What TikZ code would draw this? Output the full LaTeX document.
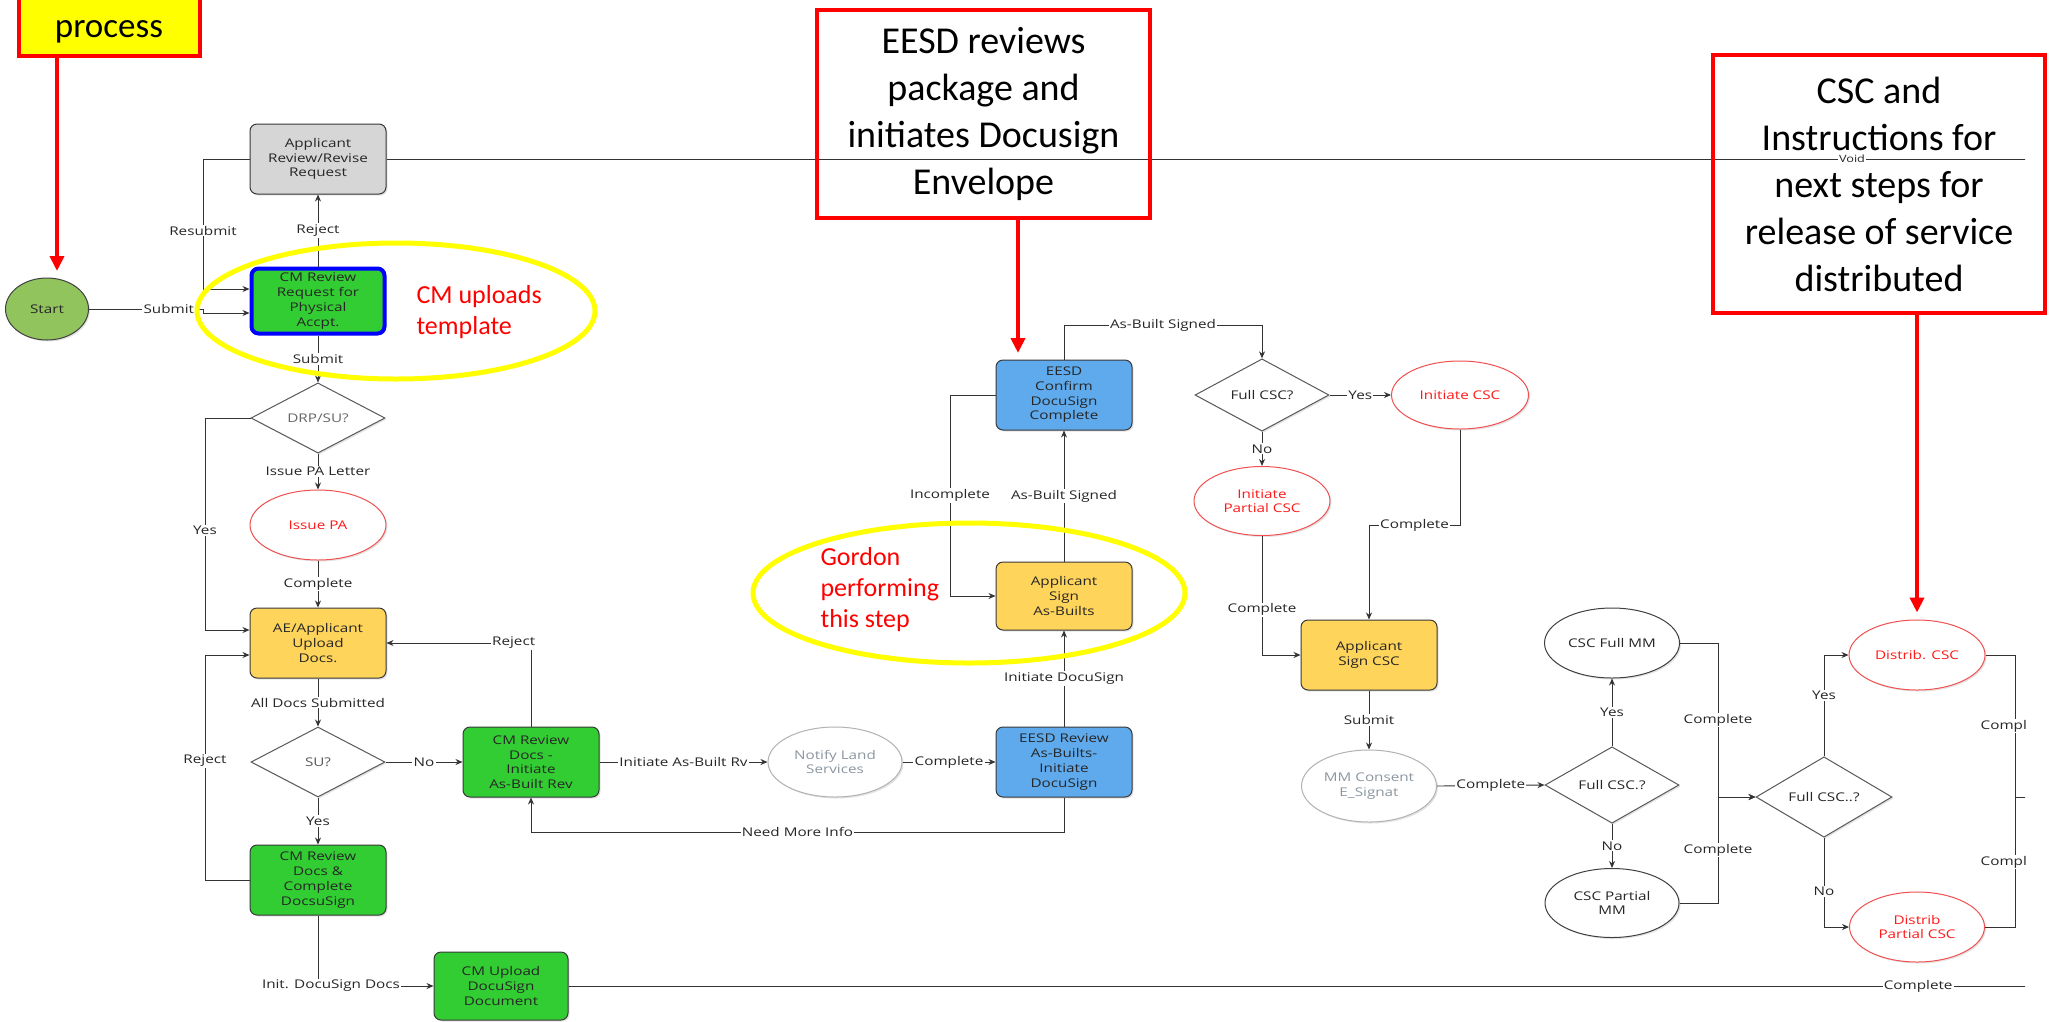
\documentclass[tikz,border=0pt]{standalone}
\usepackage{fontspec}
\setmainfont{Carlito}
\newfontfamily\flowfont{Open Sans}[FakeStretch=1.27]
\usetikzlibrary{shapes.geometric,calc,arrows.meta,shadows}

\definecolor{startgreen}{RGB}{146,196,94}
\definecolor{procgreen}{RGB}{50,205,50}
\definecolor{procgray}{RGB}{214,214,214}
\definecolor{procgold}{RGB}{255,212,90}
\definecolor{procblue}{RGB}{94,170,236}
\definecolor{ovalred}{RGB}{240,80,80}
\definecolor{textred}{RGB}{255,25,25}
\definecolor{notered}{RGB}{255,0,0}
\definecolor{ringyellow}{RGB}{255,255,0}
\definecolor{fadegray}{RGB}{140,150,160}

\begin{document}
\begin{tikzpicture}[x=1pt,y=-1pt,
  flowtext/.style={font=\flowfont\fontsize{12}{14.7}\selectfont, align=center, text=black!85},
  softshadow/.style={drop shadow={shadow xshift=1.5pt,shadow yshift=-1.5pt,opacity=0.22}},
  procbox/.style={flowtext, softshadow, draw=black!78, line width=1pt, rounded corners=7pt,
    minimum width=136pt, minimum height=70pt, inner sep=1pt},
  greenbox/.style={procbox, fill=procgreen},
  graybox/.style={procbox, fill=procgray},
  goldbox/.style={procbox, fill=procgold},
  bluebox/.style={procbox, fill=procblue},
  decision/.style={flowtext, softshadow, shape=diamond, draw=black!65, line width=1pt, fill=white,
    minimum width=134pt, minimum height=67pt, inner sep=0pt},
  oval/.style={flowtext, softshadow, shape=ellipse, line width=1pt, fill=white,
    minimum width=136pt, minimum height=70pt, inner sep=0pt},
  redoval/.style={oval, draw=ovalred, text=textred},
  paleoval/.style={oval, draw=black!30, text=fadegray},
  darkoval/.style={oval, draw=black!75},
  conn/.style={draw=black!80, line width=0.9pt},
  arr/.style={conn, -{Stealth[length=7pt,width=6pt]}},
  lbl/.style={font=\flowfont\fontsize{12}{14}\selectfont, fill=white, inner sep=1.2pt, text=black!85},
  notebox/.style={draw=notered, line width=4pt},
  notetext/.style={font=\fontsize{38}{47}\selectfont, align=center},
  pointer/.style={draw=notered, line width=4pt, -{Triangle[length=15pt,width=14pt]}},
  ring/.style={shape=ellipse, draw=ringyellow, line width=5pt, inner sep=0pt},
  handnote/.style={font=\fontsize{26}{31}\selectfont, text=notered, align=left, anchor=west}
]
\useasboundingbox (0,0) rectangle (2049,1021);
\clip (0,0) rectangle (2049,1021);
\fill[white] (0,0) rectangle (2049,1021);

\begin{scope}
\clip (0,0) rectangle (2025,1021);

% ---- process steps ----
\node[oval, draw=black!75, fill=startgreen, minimum width=83pt, minimum height=62pt] (start) at (47,309) {Start};
\node[graybox] (appreview) at (318,159) {Applicant\\Review/Revise\\Request};
\node[greenbox, draw=blue, line width=4pt, minimum width=133pt, minimum height=65pt] (cmreq) at (318,301) {CM Review\\Request for\\Physical\\Accpt.};
\node[decision, text=black!60] (drp) at (318,418) {DRP/SU?};
\node[redoval] (issuepa) at (318,525) {Issue PA};
\node[goldbox] (aeupload) at (318,643) {AE/Applicant\\Upload\\Docs.};
\node[decision, minimum height=70pt, text=black!65] (su) at (318,762) {SU?};
\node[greenbox] (cmdocs) at (531,762) {CM Review\\Docs -\\Initiate\\As-Built Rev};
\node[greenbox] (cmcomplete) at (318,880) {CM Review\\Docs \&\\Complete\\DocsuSign};
\node[greenbox, minimum width=134pt, minimum height=68pt] (cmupload) at (501,986) {CM Upload\\DocuSign\\Document};
\node[paleoval, minimum width=134pt] (notify) at (835,762) {Notify Land\\Services};
\node[bluebox] (eesdrev) at (1064,762) {EESD Review\\As-Builts-\\Initiate\\DocuSign};
\node[goldbox, minimum height=68pt] (appsign) at (1064,596) {Applicant\\Sign\\As-Builts};
\node[bluebox] (eesdconf) at (1064,395) {EESD\\Confirm\\DocuSign\\Complete};
\node[decision] (fullcsc) at (1262,395) {Full CSC?};
\node[redoval, minimum width=137pt, minimum height=68pt] (initcsc) at (1460,395) {Initiate CSC};
\node[redoval, minimum height=69pt] (initpart) at (1262,501) {Initiate\\Partial CSC};
\node[goldbox] (appsigncsc) at (1369,655) {Applicant\\Sign CSC};
\node[paleoval, minimum width=135pt, minimum height=72pt] (mmconsent) at (1369,786) {MM Consent\\E\_Signat};
\node[decision] (fullcscb) at (1612,785) {Full CSC.?};
\node[darkoval, minimum width=135pt] (cscfull) at (1612,643) {CSC Full MM};
\node[darkoval, minimum width=134pt, minimum height=69pt] (cscpart) at (1612,903) {CSC Partial\\MM};
\node[decision, minimum width=136pt] (fullcscc) at (1824,797) {Full CSC..?};
\node[redoval] (distcsc) at (1917,655) {Distrib. CSC};
\node[redoval, minimum width=135pt] (distpart) at (1917,927) {Distrib\\Partial CSC};

% ---- connectors ----
\draw[arr] (start.east) -- node[lbl,pos=0.7]{Submit} ++(114,0) |- ($(cmreq.west)+(0,12)$);
\draw[arr] (appreview.west) -- (203,159) -- node[lbl,pos=0.55]{Resubmit} (203,289) -- ($(cmreq.west)+(0,-12)$);
\draw[arr] (cmreq.north) -- node[lbl]{Reject} (appreview.south);
\draw[arr] (cmreq.south) -- node[lbl]{Submit} (drp.north);
\draw[arr] (drp.west) -- (205,418) -- node[lbl,pos=0.53]{Yes} (205,630) -- ($(aeupload.west)+(0,-13)$);
\draw[arr] (drp.south) -- node[lbl]{Issue PA Letter} (issuepa.north);
\draw[arr] (issuepa.south) -- node[lbl]{Complete} (aeupload.north);
\draw[arr] (aeupload.south) -- node[lbl]{All Docs Submitted} (su.north);
\draw[arr] (su.east) -- node[lbl]{No} (cmdocs.west);
\draw[arr] (cmdocs.north) |- node[lbl,pos=0.56]{Reject} (aeupload.east);
\draw[arr] (su.south) -- node[lbl]{Yes} (cmcomplete.north);
\draw[arr] (cmcomplete.west) -- (205,880) -- node[lbl,pos=0.53]{Reject} (205,655) -- ($(aeupload.west)+(0,12)$);
\draw[arr] (cmcomplete.south) |- node[lbl,pos=0.556]{Init. DocuSign Docs} (cmupload.west);
\draw[conn] (cmupload.east) -- node[lbl,pos=0.9116]{Complete} (2049,986);
\draw[arr] (cmdocs.east) -- node[lbl]{Initiate As-Built Rv} (notify.west);
\draw[arr] (notify.east) -- node[lbl]{Complete} (eesdrev.west);
\draw[arr] (eesdrev.south) -- (eesdrev.south |- 0,832) -- node[lbl]{Need More Info} (cmdocs.south |- 0,832) -- (cmdocs.south);
\draw[arr] (eesdrev.north) -- node[lbl]{Initiate DocuSign} (appsign.south);
\draw[arr] (appsign.north) -- node[lbl]{As-Built Signed} (eesdconf.south);
\draw[arr] (eesdconf.west) -- (950,395) -- node[lbl]{Incomplete} (950,596) -- (appsign.west);
\draw[arr] (eesdconf.north) -- (1064,325) -- node[lbl]{As-Built Signed} (1262,325) -- (fullcsc.north);
\draw[arr] (fullcsc.east) -- node[lbl]{Yes} (initcsc.west);
\draw[arr] (fullcsc.south) -- node[lbl]{No} (initpart.north);
\draw[arr] (initcsc.south) -- (1460,525) -- node[lbl]{Complete} (1369,525) -- (appsigncsc.north);
\draw[arr] (initpart.south) |- node[lbl,pos=0.31]{Complete} (appsigncsc.west);
\draw[arr] (appsigncsc.south) -- node[lbl]{Submit} (mmconsent.north);
\draw[arr] (mmconsent.east) -- node[lbl]{Complete} (fullcscb.west);
\draw[arr] (fullcscb.north) -- node[lbl]{Yes} (cscfull.south);
\draw[arr] (fullcscb.south) -- node[lbl]{No} (cscpart.north);
\draw[arr] (cscfull.east) -- (1718,643) -- node[lbl]{Complete} (1718,797) -- (fullcscc.west);
\draw[arr] (cscpart.east) -- (1718,903) -- node[lbl]{Complete} (1718,797) -- (fullcscc.west);
\draw[arr] (fullcscc.north) |- node[lbl,pos=0.3]{Yes} (distcsc.west);
\draw[arr] (fullcscc.south) |- node[lbl,pos=0.3]{No} (distpart.west);
\draw[conn] (distcsc.east) -- (2015,655) -- node[lbl]{Complete} (2015,797) -- (2049,797);
\draw[conn] (distpart.east) -- (2015,927) -- node[lbl]{Complete} (2015,797);
\draw[conn] (appreview.east) -- node[lbl,pos=0.8815,font=\flowfont\fontsize{10}{12}\selectfont]{Void} (2049,159);
\end{scope}

% ---- call-out notes ----
\node[notebox, fill=ringyellow, minimum width=181pt, minimum height=100pt] (procnote) at (109.5,6) {};
\node[font=\fontsize{35}{42}\selectfont, anchor=base] (proctext) at (109,37) {process};
\node[notebox, notetext, minimum width=333pt, minimum height=208pt] (eesdnote) at (983.5,114)
  {EESD reviews\\package and\\initiates Docusign\\Envelope};
\node[notebox, notetext, minimum width=332pt, minimum height=258pt] (cscnote) at (1879,184)
  {CSC and\\Instructions for\\next steps for\\release of service\\distributed};

\coordinate (proctip) at (57,271);
\coordinate (eesdtip) at (1018,353);
\draw[pointer] (procnote.south -| proctip) -- (proctip);
\draw[pointer] (eesdnote.south -| eesdtip) -- (eesdtip);
\draw[pointer] (cscnote.south -| distcsc.north) -- ($(distcsc.north)+(0,-7)$);

% ---- highlight rings and hand notes ----
\node[ring, minimum width=398pt, minimum height=136pt] (ringa) at (396,311) {};
\node[ring, minimum width=432pt, minimum height=140pt] (ringb) at (969,593) {};
\node[handnote] (notea) at (413,312) {CM uploads\\template};
\node[handnote] (noteb) at (817,590) {Gordon\\performing\\this step};
\end{tikzpicture}
\end{document}
